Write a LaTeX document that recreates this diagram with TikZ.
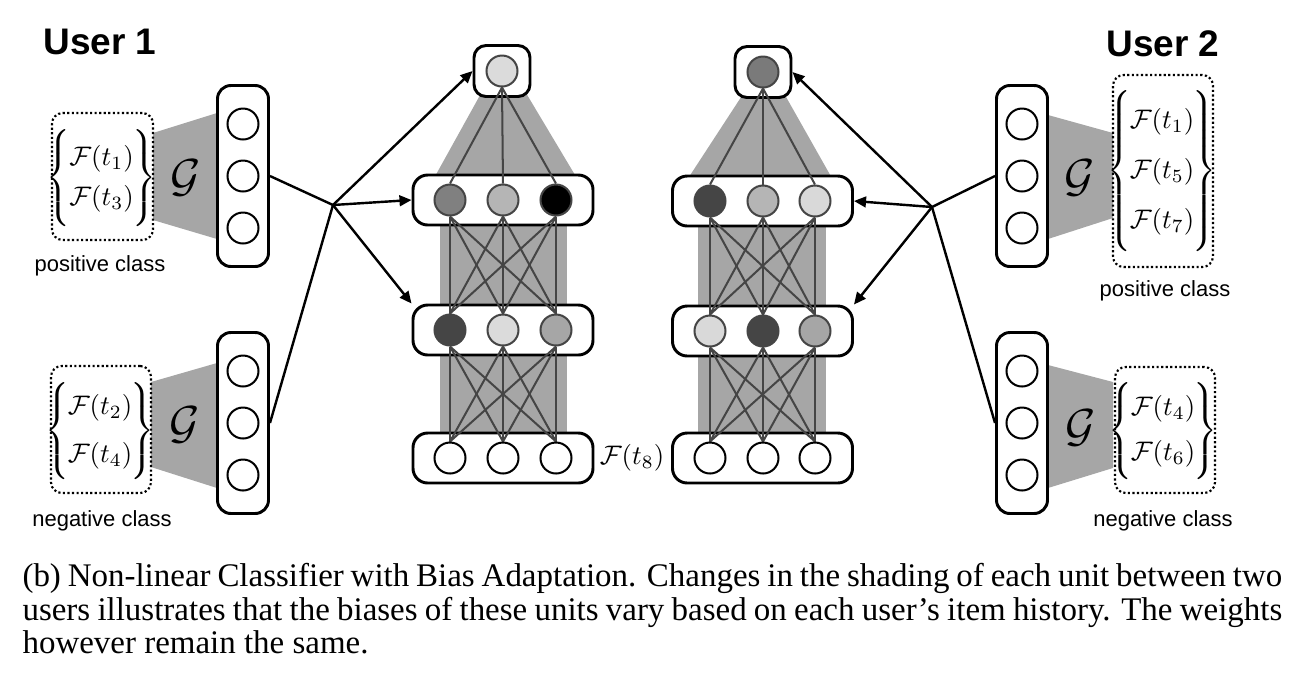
\documentclass[tikz,border=0pt]{standalone}
\usepackage{fontspec}
\newfontfamily\sansf{Liberation Sans}
\newfontfamily\serff{Liberation Serif}
\usetikzlibrary{arrows.meta}
\definecolor{mapgray}{HTML}{A6A6A6}
\definecolor{wire}{HTML}{454545}
\definecolor{gA}{gray}{0.86}
\definecolor{gB}{gray}{0.50}
\definecolor{gC}{gray}{0.71}
\definecolor{gD}{gray}{0.0}
\definecolor{gE}{gray}{0.27}
\definecolor{gF}{gray}{0.65}
\definecolor{gG}{gray}{0.85}
\definecolor{gH}{gray}{0.48}
\def\pxu{0.3731pt}
\pgfdeclarelayer{back}
\pgfdeclarelayer{mid}
\pgfsetlayers{back,mid,main}
% a brace of given total height, set at 16pt so that its stroke is heavier
\newcommand\bigbr[2]{\raisebox{-1.5pt}{\fontsize{16}{19}\selectfont$\nulldelimiterspace=0pt \delimiterfactor=1000 \delimitershortfall=0pt
  \left#1\rule[\dimexpr4pt-#2/2\relax]{0pt}{#2}\right.$}}
\newcommand\bracetwo[4]{$\bigbr{\{}{#4}\mkern-1mu\begin{array}{@{}c@{}}#1\\[#3]#2\end{array}\mkern-1mu\bigbr{\}}{#4}$}
\newcommand\bracethree[5]{$\bigbr{\{}{#5}\mkern-1mu\begin{array}{@{}c@{}}#1\\[#4]#2\\[#4]#3\end{array}\mkern-1mu\bigbr{\}}{#5}$}
\begin{document}
\begin{tikzpicture}[x=0.3731pt,y=-0.3731pt,
  colbox/.style={draw, line width=1.1pt, rounded corners=5pt, fill=white,
    minimum width=51*\pxu, minimum height=181*\pxu, inner sep=0pt},
  layerbox/.style={draw, line width=1.1pt, rounded corners=5.5pt, fill=white,
    minimum width=180*\pxu, minimum height=50*\pxu, inner sep=0pt},
  outbox/.style={draw, line width=1.1pt, rounded corners=4.5pt, fill=white,
    minimum width=56*\pxu, minimum height=51*\pxu, inner sep=0pt},
  unit/.style={circle, draw, line width=0.75pt, fill=white, minimum size=31*\pxu, inner sep=0pt},
  nunit/.style={unit, draw=wire},
  dotbox/.style={draw, line width=0.8pt, dash pattern=on 0.8pt off 0.9pt,
    rounded corners=4pt, inner sep=0pt},
  wireline/.style={draw=wire, line width=0.75pt},
  link/.style={line width=0.9pt, black},
  arr/.style={link, -{Triangle[length=4.5pt,width=4pt]}},
  lab/.style={font=\sansf\fontsize{8.2}{10}\selectfont, inner sep=0pt},
  usr/.style={font=\sansf\bfseries\fontsize{13.8}{16}\selectfont, inner sep=0pt},
  fm/.style={inner sep=0pt, font=\fontsize{10}{12}\selectfont},
  gl/.style={inner sep=0pt, font=\fontsize{17.28}{20}\selectfont}]
\useasboundingbox (0,0) rectangle (1310,680);

% ---------- background layer: shading and boxes ----------
\begin{pgfonlayer}{back}
  % G mappings
  \fill[mapgray] (153,133) -- (217,113) -- (217,239) -- (153,220) -- cycle;
  \fill[mapgray] (151,382) -- (217,363) -- (217,488) -- (151,467) -- cycle;
  \fill[mapgray] (1048,115) -- (1113,133) -- (1113,218) -- (1048,239) -- cycle;
  \fill[mapgray] (1048,365) -- (1113,382) -- (1113,468) -- (1048,488) -- cycle;
  % network shading
  \fill[mapgray] (440,200) rectangle (567,458);
  \fill[mapgray] (484,88) -- (523,88) -- (578,180) -- (433,180) -- cycle;
  \fill[mapgray] (698,201) rectangle (826,458);
  \fill[mapgray] (747,88) -- (781,88) -- (833,180) -- (687,180) -- cycle;
  % boxes
  \node[colbox] (cl1) at (243,176) {};
  \node[colbox] (cl2) at (243,423) {};
  \node[colbox] (cr1) at (1022,176) {};
  \node[colbox] (cr2) at (1022,423) {};
  \node[layerbox] (lh1) at (503,200) {};
  \node[layerbox] (lh2) at (503,330) {};
  \node[layerbox] (lin) at (503,458) {};
  \node[outbox] (lout) at (502,71) {};
  \node[layerbox] (rh1) at (762.5,201) {};
  \node[layerbox] (rh2) at (762.5,331) {};
  \node[layerbox] (rin) at (762.5,458) {};
  \node[outbox] (rout) at (763,72) {};
  % dotted item sets
  \node[dotbox, minimum width=101*\pxu, minimum height=127*\pxu] (dl1) at (102.5,176.5) {};
  \node[dotbox, minimum width=100*\pxu, minimum height=127*\pxu] (dl2) at (101,429.5) {};
  \node[dotbox, minimum width=100*\pxu, minimum height=192*\pxu] (dr1) at (1163,171) {};
  \node[dotbox, minimum width=100*\pxu, minimum height=126*\pxu] (dr2) at (1165,430) {};
\end{pgfonlayer}

% ---------- units ----------
\foreach \y [count=\k] in {124,176,228} {
  \node[unit] (cl1u\k) at (243,\y) {};
  \node[unit] (cr1u\k) at (1022,\y) {};
}
\foreach \y [count=\k] in {371,423,475} {
  \node[unit] (cl2u\k) at (243,\y) {};
  \node[unit] (cr2u\k) at (1022,\y) {};
}
% left network
\node[nunit, fill=gA] (lo) at (502,71) {};
\foreach \x/\ca/\cb [count=\k] in {450/gB/gE, 503/gC/gA, 556/gD/gF} {
  \node[nunit, fill=\ca] (la\k) at (\x,200) {};
  \node[nunit, fill=\cb] (lb\k) at (\x,330) {};
  \node[unit] (li\k) at (\x,458) {};
}
% right network
\node[nunit, fill=gH] (ro) at (763,72) {};
\foreach \x/\ca/\cb [count=\k] in {710/gE/gG, 763/gC/gE, 815/gG/gF} {
  \node[nunit, fill=\ca] (ra\k) at (\x,201) {};
  \node[nunit, fill=\cb] (rb\k) at (\x,331) {};
  \node[unit] (ri\k) at (\x,458) {};
}

% ---------- weights ----------
\begin{pgfonlayer}{mid}
  \foreach \a in {1,2,3} {
    \foreach \b in {1,2,3} {
      \draw[wireline] (li\a.north) -- (lb\b.south);
      \draw[wireline] (lb\a.north) -- (la\b.south);
      \draw[wireline] (ri\a.north) -- (rb\b.south);
      \draw[wireline] (rb\a.north) -- (ra\b.south);
    }
    \draw[wireline] (la\a.north) -- (lo.south);
    \draw[wireline] (ra\a.north) -- (ro.south);
  }
\end{pgfonlayer}

% ---------- hubs and arrows ----------
\coordinate (hubL) at (333,205);
\coordinate (hubR) at (932,207);
\draw[link] (cl1.east) -- (hubL);
\draw[link] (cl2.east) -- (hubL);
\draw[arr] (hubL) -- (lout.west);
\draw[arr] (hubL) -- (lh1.west);
\draw[arr] (hubL) -- (lh2.north west);
\draw[link] (cr1.west) -- (hubR);
\draw[link] (cr2.west) -- (hubR);
\draw[arr] (hubR) -- (rout.east);
\draw[arr] (hubR) -- (rh1.east);
\draw[arr] (hubR) -- (rh2.north east);

% ---------- labels ----------
\node[usr] (u1) at (100,42) {User 1};
\node[usr] (u2) at (1163,44) {User 2};
\node[lab] (pl) at (100,266) {positive class};
\node[lab] (nl) at (102,521) {negative class};
\node[lab] (pr) at (1165,291) {positive class};
\node[lab] (nr) at (1163,521) {negative class};

\node[gl] (gl1) at (186,178) {$\mathcal{G}$};
\node[gl] (gl2) at (185,425) {$\mathcal{G}$};
\node[gl] (gr1) at (1080,178) {$\mathcal{G}$};
\node[gl] (gr2) at (1081,428) {$\mathcal{G}$};

\node[fm] (sl1) at (101.5,178) {\bracetwo{\mathcal{F}(t_1)}{\mathcal{F}(t_3)}{3pt}{34pt}};
\node[fm] (sl2) at (100,431) {\bracetwo{\mathcal{F}(t_2)}{\mathcal{F}(t_4)}{6pt}{34pt}};
\node[fm] (sr1) at (1162,171) {\bracethree{\mathcal{F}(t_1)}{\mathcal{F}(t_5)}{\mathcal{F}(t_7)}{6.7pt}{55pt}};
\node[fm] (sr2) at (1163,431) {\bracetwo{\mathcal{F}(t_4)}{\mathcal{F}(t_6)}{4.8pt}{34pt}};

\node[fm] (f8) at (632,458) {$\mathcal{F}(t_8)$};

% ---------- caption ----------
\node[anchor=north west, inner sep=0pt, text width=470pt, align=justify,
  font=\serff\fontsize{12.3}{12.4}\selectfont] (cap) at (22,563)
  {(b) Non-linear Classifier with Bias Adaptation. Changes in the shading of each unit between two users illustrates that the biases of these units vary based on each user’s item history. The weights however remain the same.};
\end{tikzpicture}
\end{document}
